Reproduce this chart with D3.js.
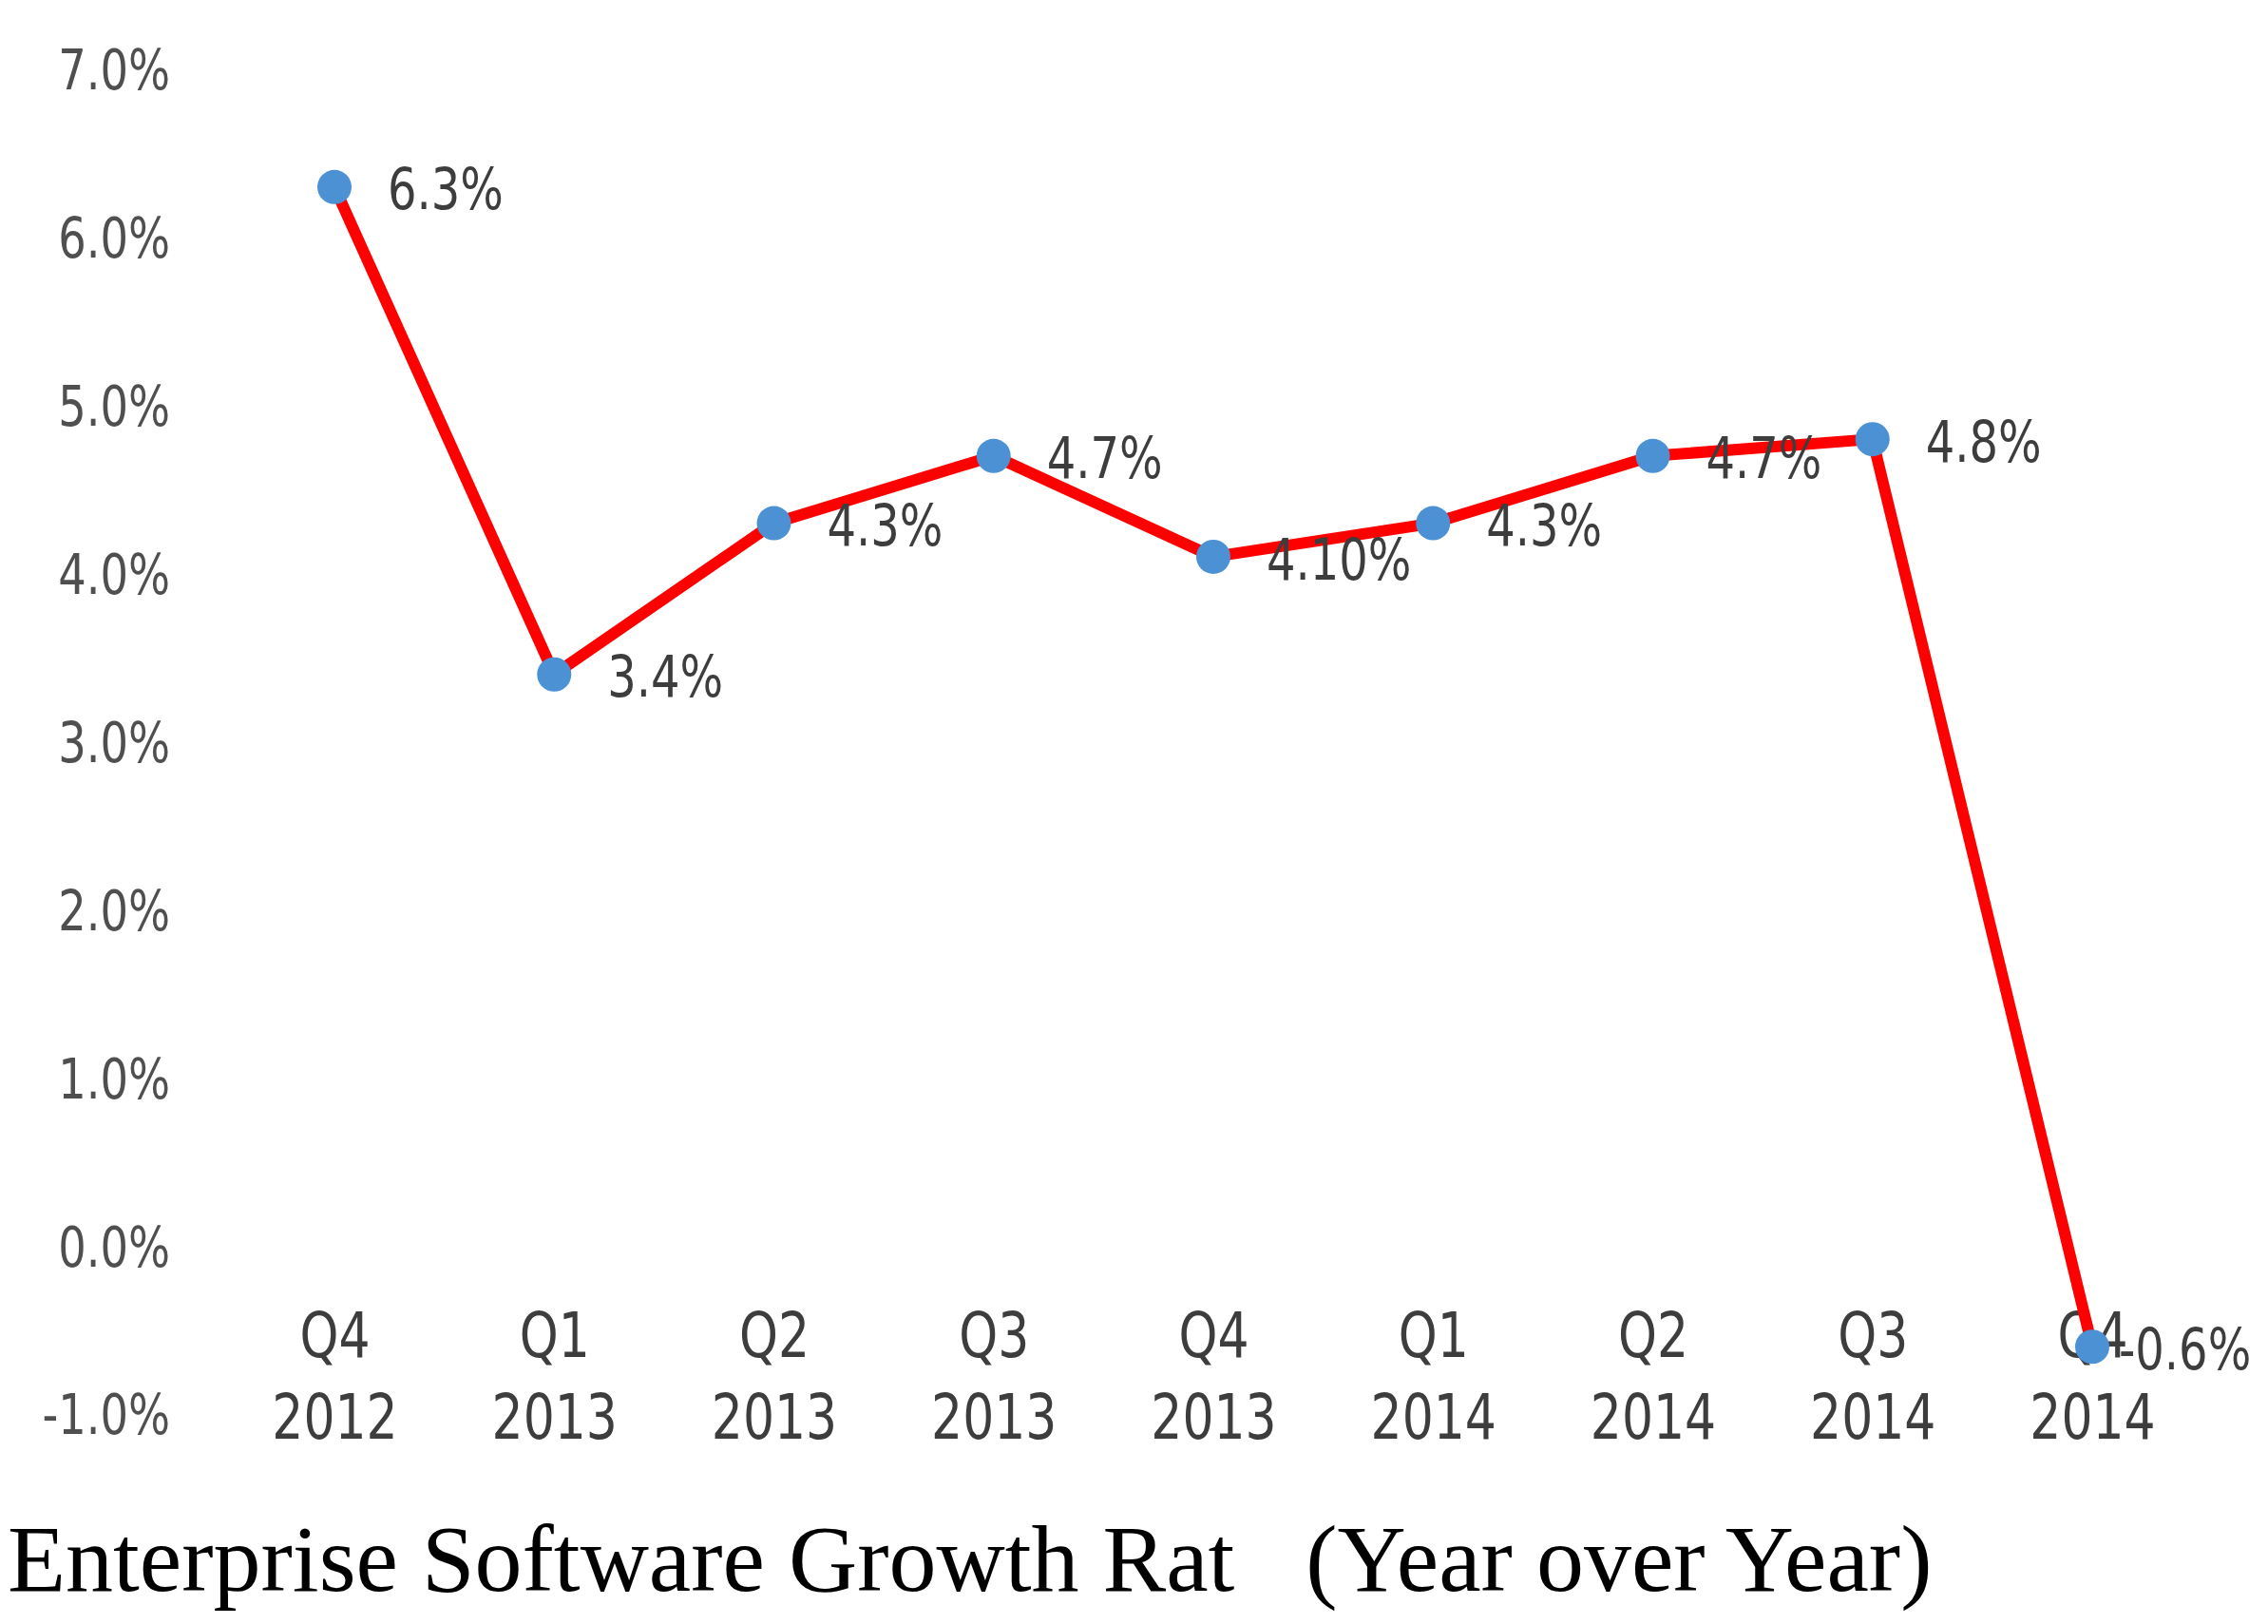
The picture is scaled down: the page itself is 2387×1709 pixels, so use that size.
<!DOCTYPE html>
<html>
<head>
<meta charset="utf-8">
<script src="https://cdn.jsdelivr.net/npm/d3@7"></script>
<style>
  body { margin: 0; background: #fff; }
  svg { display: block; }
</style>
</head>
<body>
<div id="chart"></div>
<script>
const quarters = ['Q4', 'Q1', 'Q2', 'Q3', 'Q4', 'Q1', 'Q2', 'Q3', 'Q4'];
const years = ['2012', '2013', '2013', '2013', '2013', '2014', '2014', '2014', '2014'];
const growth = [6.3, 3.4, 4.3, 4.7, 4.1, 4.3, 4.7, 4.8, -0.6];
const pointLabels = ['6.3%', '3.4%', '4.3%', '4.7%', '4.10%', '4.3%', '4.7%', '4.8%', '-0.6%'];
const yTicks = [-1, 0, 1, 2, 3, 4, 5, 6, 7];
const titleText = 'Enterprise Software Growth Rat   (Year over Year)';

const drawChart = () => {
  let width = 2387;
  let height = 1709;
  let squeeze = 'scale(0.8,1)';

  let svg = d3
    .select('#chart')
    .append('svg')
    .attr('width', width)
    .attr('height', height);

  let keys = quarters.map((q, i) => i);

  // Scales
  let xPositionScale = d3.scalePoint().domain(keys).range([352, 2202]);
  let yPositionScale = d3.scaleLinear().domain([-1, 7]).range([1488, 73]);

  // Y axis, labels only
  let yAxis = svg
    .append('g')
    .attr('transform', 'translate(179,0)')
    .call(
      d3
        .axisLeft(yPositionScale)
        .tickValues(yTicks)
        .tickSize(0)
        .tickPadding(0)
        .tickFormat((d) => (d < 0 ? '-' : '') + Math.abs(d).toFixed(1) + '%')
    );
  yAxis.select('.domain').remove();
  yAxis
    .selectAll('text')
    .attr('x', 0)
    .attr('dy', '0.36em')
    .attr('transform', squeeze)
    .attr('fill', '#4f4f4f')
    .style('font-family', 'DejaVu Sans')
    .style('font-size', '58px');

  // X axis, two line labels
  let xAxis = svg
    .append('g')
    .attr('transform', 'translate(0,1428)')
    .call(d3.axisBottom(xPositionScale).tickSize(0).tickFormat(''));
  xAxis.select('.domain').remove();
  let xText = xAxis
    .selectAll('.tick text')
    .attr('y', 0)
    .attr('dy', 0)
    .attr('transform', squeeze)
    .attr('fill', '#3d3d3d')
    .style('font-family', 'DejaVu Sans')
    .style('font-size', '65px');
  xText.append('tspan').attr('x', 0).text((d) => quarters[d]);
  xText
    .append('tspan')
    .attr('x', 0)
    .attr('dy', 86)
    .text((d) => years[d]);

  // Line
  let line = d3
    .line()
    .x((d, i) => xPositionScale(i))
    .y((d) => yPositionScale(d));

  svg
    .append('path')
    .datum(growth)
    .attr('d', line)
    .attr('fill', 'none')
    .attr('stroke', '#ff0000')
    .attr('stroke-width', 12)
    .attr('stroke-linejoin', 'round');

  // Dots
  svg
    .selectAll('.dot')
    .data(growth)
    .enter()
    .append('circle')
    .attr('class', 'dot')
    .attr('cx', (d, i) => xPositionScale(i))
    .attr('cy', (d) => yPositionScale(d))
    .attr('r', 18)
    .attr('fill', '#4d91d5');

  // Value labels, right of each dot (minus sign tucks under the last marker)
  svg
    .selectAll('.value-label')
    .data(growth)
    .enter()
    .append('text')
    .attr('class', 'value-label')
    .attr(
      'transform',
      (d, i) =>
        `translate(${xPositionScale(i) + (d < 0 ? 28 : 56)},${yPositionScale(d) + 2}) ${squeeze}`
    )
    .attr('dy', '0.36em')
    .attr('fill', '#3d3d3d')
    .style('font-family', 'DejaVu Sans')
    .style('font-size', '60px')
    .text((d, i) => pointLabels[i]);

  // Title under the chart
  svg
    .append('text')
    .attr('x', 8)
    .attr('y', 1674)
    .attr('fill', '#000')
    .style('font-family', 'Liberation Serif, Times New Roman, serif')
    .style('font-size', '100px')
    .style('white-space', 'pre')
    .text(titleText);
};

drawChart();
</script>
</body>
</html>
